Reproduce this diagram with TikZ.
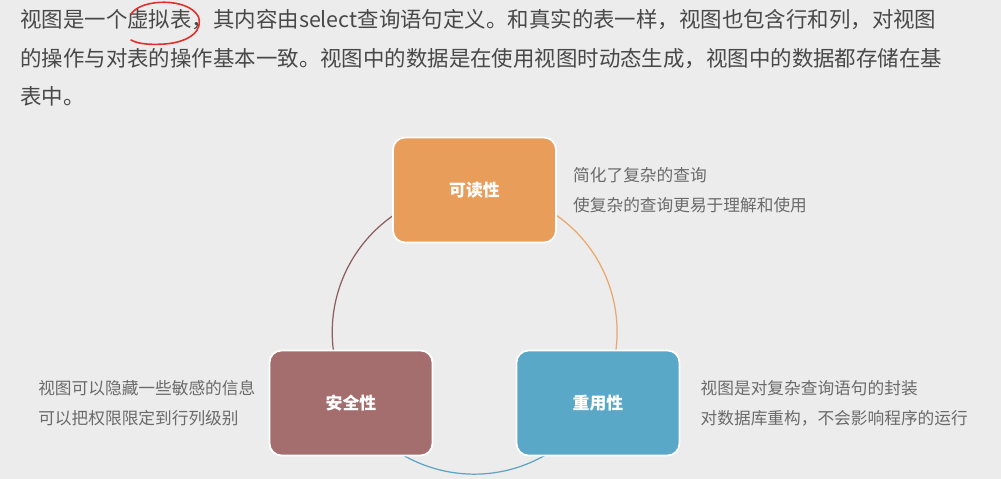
\documentclass[tikz,border=0pt]{standalone}
\usepackage{fontspec}
\setmainfont{Noto Sans CJK SC}
\usetikzlibrary{positioning, backgrounds}

\definecolor{bgGray}{HTML}{ECECEC}
\definecolor{paraGray}{HTML}{484848}
\definecolor{noteGray}{HTML}{6A6A6A}
\definecolor{readOrange}{HTML}{E89D5A}
\definecolor{safeBrown}{HTML}{A56E6E}
\definecolor{reuseBlue}{HTML}{5AA8C8}
\definecolor{inkRed}{HTML}{E0302C}

\begin{document}
\begin{tikzpicture}[
  x=0.02cm, y=-0.02cm,
  para/.style={anchor=base west, inner sep=0pt, text=paraGray,
               font=\fontsize{12.2}{14}\selectfont},
  box/.style={draw=white, line width=1pt, rounded corners=0.24cm,
              minimum width=3.26cm, minimum height=2.1cm, inner sep=0pt,
              text=white, font=\fontsize{9.6}{11}\selectfont\bfseries},
  note/.style={align=left, inner sep=0pt, text=noteGray,
               font=\fontsize{9.5}{17}\selectfont},
  ring/.style={line width=0.7pt},
]
\useasboundingbox (0,0) rectangle (1001,479);

% Paragraph
\node[para] (par1) at (20,28)
  {视图是一个虚拟表，其内容由select查询语句定义。和真实的表一样，视图也包含行和列，对视图};
\node[para] (par2) at (20,66.5)
  {的操作与对表的操作基本一致。视图中的数据是在使用视图时动态生成，视图中的数据都存储在基};
\node[para] (par3) at (20,105)
  {表中。};

% Hand-drawn mark round the key word
\draw[inkRed, line width=0.9pt, line cap=round]
  (131,14) .. controls (142,-2) and (188,-2) .. (198,16)
           .. controls (204,30) and (190,42) .. (165,44)
           .. controls (150,45) and (138,44) .. (131,40);

% Three boxes
\node[box, fill=readOrange] (read)  at (474.5,190) {可读性};
\node[box, fill=safeBrown]  (safe)  at (351,403)   {安全性};
\node[box, fill=reuseBlue]  (reuse) at (598,403)   {重用性};

% Notes
\node[note, anchor=west, right=0.32cm of read]
  (readNote) {简化了复杂的查询\\使复杂的查询更易于理解和使用};
\node[note, anchor=east, left=0.26cm of safe]
  (safeNote) {视图可以隐藏一些敏感的信息\\可以把权限限定到行列级别};
\node[note, anchor=west, right=0.4cm of reuse]
  (reuseNote) {视图是对复杂查询语句的封装\\对数据库重构，不会影响程序的运行};

% Background and ring
\begin{scope}[on background layer]
  \fill[bgGray] (0,0) rectangle (1001,479);
  \draw[ring, safeBrown!85!black] (read.center)
    arc[start angle=90, end angle=210, radius=2.846cm];
  \draw[ring, reuseBlue!90!gray] (safe.center)
    arc[start angle=210, end angle=330, radius=2.846cm];
  \draw[ring, readOrange!90!white] (reuse.center)
    arc[start angle=-30, end angle=90, radius=2.846cm];
\end{scope}
\end{tikzpicture}
\end{document}
